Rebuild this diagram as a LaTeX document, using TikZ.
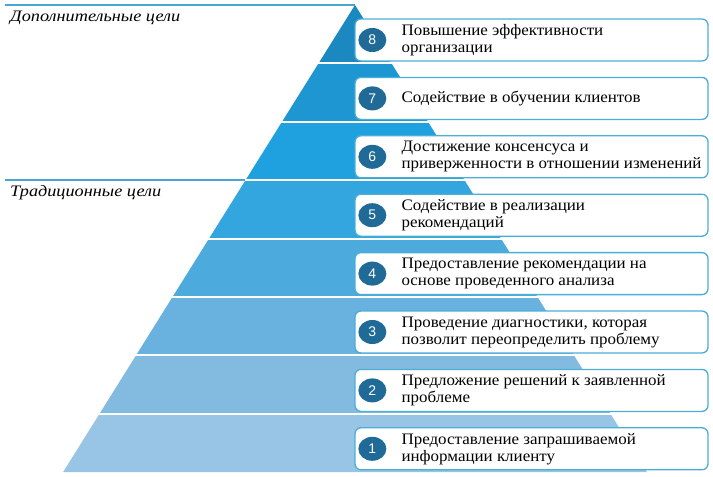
\documentclass[tikz,border=0pt]{standalone}
\usepackage{fontspec}
\setmainfont{Liberation Serif}
\newfontfamily\numfont{Liberation Sans}
\newfontfamily\goalfont[FakeStretch=1.06]{Liberation Serif}
\newfontfamily\labfont[FakeStretch=1.14]{Liberation Serif}
\usepackage{xcolor}
\usetikzlibrary{positioning,shapes.geometric}

\definecolor{band1}{HTML}{98C4E5}
\definecolor{band2}{HTML}{82BAE0}
\definecolor{band3}{HTML}{69B2DF}
\definecolor{band4}{HTML}{4CAADD}
\definecolor{band5}{HTML}{33A6E0}
\definecolor{band6}{HTML}{1FA0DF}
\definecolor{band7}{HTML}{1D96D2}
\definecolor{band8}{HTML}{1B88C0}
\definecolor{goalbox}{HTML}{4AAED6}
\definecolor{numdot}{HTML}{1F6A96}
\definecolor{sepline}{HTML}{4AA5D0}

\begin{document}
\begin{tikzpicture}[x=1pt, y=-1pt,
  goal/.style={draw=goalbox, line width=1.3pt, rounded corners=6pt, fill=white,
    minimum width=353pt, minimum height=42pt, inner sep=0pt},
  num/.style={ellipse, fill=numdot, text=white, minimum width=28pt, minimum height=24pt,
    inner sep=0pt, font=\numfont\fontsize{14}{14}\selectfont},
  txt/.style={align=left, anchor=west, inner sep=0pt, font=\goalfont\fontsize{16}{17}\selectfont},
  lab/.style={anchor=base west, inner sep=0pt, font=\labfont\itshape\fontsize{16}{16}\selectfont}
]
\useasboundingbox (0,0) rectangle (713,477);
% pyramid bands, from the top (8) down to the base (1)
\foreach \c [count=\k from 0] in {band8,band7,band6,band5,band4,band3,band2,band1}{
  \pgfmathsetmacro\ya{5+58.4*\k}
  \pgfmathsetmacro\yb{\ya+58.4}
  \fill[\c] ({355-0.625*(\ya-5)},\ya) -- ({355+0.625*(\ya-5)},\ya)
    -- ({355+0.625*(\yb-5)},\yb) -- ({355-0.625*(\yb-5)},\yb) -- cycle;
}
\foreach \k in {1,...,7}{
  \pgfmathsetmacro\ya{5+58.4*\k}
  \draw[white, line width=2pt] ({354-0.625*(\ya-5)},\ya) -- ({356+0.625*(\ya-5)},\ya);
}
% group separators
\draw[sepline, line width=1.6pt] (5,5) -- (355,5);
\draw[sepline, line width=1.6pt] (5,180.2) -- (245,180.2);
\node[lab] (extra) at (10,21) {Дополнительные цели};
\node[lab] (trad) at (10,196) {Традиционные цели};
% goal boxes
\foreach \i/\t [count=\k from 0] in {
  8/{Повышение эффективности\\организации},
  7/{Содействие в обучении клиентов},
  6/{Достижение консенсуса и\\приверженности в отношении изменений},
  5/{Содействие в реализации\\рекомендаций},
  4/{Предоставление рекомендации на\\основе проведенного анализа},
  3/{Проведение диагностики, которая\\позволит переопределить проблему},
  2/{Предложение решений к заявленной\\проблеме},
  1/{Предоставление запрашиваемой\\информации клиенту}}{
  \node[goal] (box\i) at (531.5,{5+58.4*\k+35}) {};
  \node[num] (num\i) at ([xshift=18pt]box\i.west) {\i};
  \node[txt] (txt\i) at ([xshift=47pt]box\i.west) {\t};
}
\end{tikzpicture}
\end{document}
